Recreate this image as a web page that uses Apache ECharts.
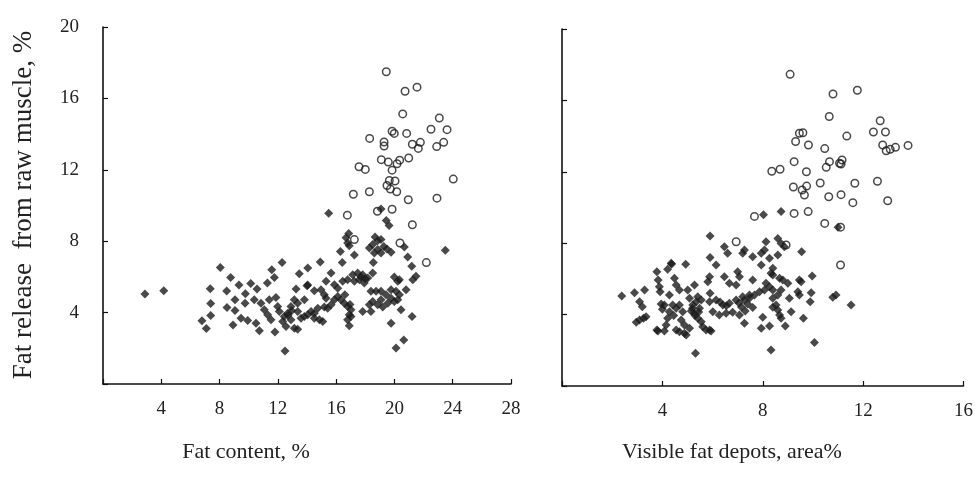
<!DOCTYPE html>
<html>
<head>
<meta charset="utf-8">
<title>Fat release scatter</title>
<script src="https://cdn.jsdelivr.net/npm/echarts@6/dist/echarts.min.js"></script>
<style>
  html, body { margin: 0; padding: 0; background: #fff; }
  #chart { width: 976px; height: 490px; }
</style>
</head>
<body>
<div id="chart"></div>
<script>
// left panel: fat content (%) vs fat release (%)
var leftFilled = [
  [2.88,5.04],[4.17,5.22],[8.05,6.52],[12.29,6.81],[8.76,5.97],[7.36,5.34],[9.33,5.54],[10.14,5.63],
  [10.57,5.32],[11.58,6.4],[11.76,5.96],[11.28,5.66],[8.49,5.21],[9.77,5.06],[7.39,4.51],[9.06,4.72],
  [9.75,4.53],[8.51,4.29],[9.06,4.12],[7.39,3.84],[6.79,3.54],[7.09,3.11],[8.92,3.31],[9.47,3.69],
  [9.93,3.56],[10.5,3.41],[10.73,2.99],[11.8,2.92],[12.49,1.85],[10.38,4.72],[10.84,4.53],[11.07,4.16],
  [11.3,3.88],[11.53,3.6],[11.41,4.72],[11.87,4.85],[12.44,3.78],[12.1,4.06],[12.68,3.97],[12.9,3.6],
  [12.33,3.5],[12.56,3.22],[13.13,3.13],[13.36,3.07],[11.99,4.34],[12.9,4.34],[13.36,4.06],[13.59,3.69],
  [13.82,4.72],[13.13,4.72],[13.36,4.53],[13.47,6.18],[14.05,6.5],[13.25,5.32],[14.0,5.51],
  [23.49,7.49],[16.86,8.43],[16.68,8.19],[16.79,7.9],[16.9,7.75],[16.29,7.42],[17.25,7.23],
  [18.67,8.24],[18.85,8.02],[19.08,8.09],[18.51,7.81],[18.28,7.62],[18.85,7.53],[19.27,7.71],[19.49,7.57],
  [19.77,7.38],[19.08,7.34],[18.62,7.34],[20.68,7.68],[20.91,7.12],[21.19,6.59],[14.91,6.84],[16.42,6.81],
  [18.55,6.81],[15.65,6.22],[15.31,5.75],[14.05,5.54],[14.5,5.22],[14.96,5.28],[15.19,5.0],[15.31,4.81],
  [17.14,6.12],[17.48,6.22],[17.82,6.12],[18.17,5.94],[18.51,6.22],[17.59,5.84],[17.93,5.66],[17.25,5.75],
  [16.79,5.84],[16.45,5.75],[15.88,5.56],[16.11,5.37],[19.99,5.99],[20.34,5.84],[20.23,5.75],[21.48,6.03],
  [21.26,5.84],[20.8,5.28],[19.77,5.28],[20.11,5.19],[20.34,5.0],[20.23,4.72],[19.99,4.62],[19.77,4.81],
  [19.42,5.0],[19.08,5.19],[18.74,5.19],[18.39,5.19],[19.08,4.72],[19.54,4.53],[19.2,4.31],[18.85,4.44],
  [18.51,4.62],[18.28,4.44],[17.82,4.06],[18.39,4.06],[20.45,4.16],[21.21,3.78],[19.77,3.41],[20.64,2.47],
  [20.11,2.01],[16.11,4.9],[16.33,4.72],[16.56,4.53],[16.79,4.34],[17.02,4.16],[16.9,3.88],[16.79,3.6],
  [16.9,3.26],[17.02,3.78],[15.88,4.72],[15.65,4.44],[15.42,4.25],[15.19,4.31],[14.74,4.25],[14.5,3.97],
  [14.28,4.06],[14.05,3.88],[14.5,3.69],[14.85,3.6],[15.08,3.5],[13.82,3.78],
  [15.49,9.57],[19.08,9.81],[19.44,9.16],[19.63,8.88],
  [12.7,3.85],[12.95,4.1],[17.7,6.0],[18.0,5.9],[16.6,5.0],[16.95,4.45]
];
var leftOpen = [
  [19.44,17.49],[20.73,16.4],[21.55,16.63],[20.57,15.13],[23.08,14.9],[22.51,14.27],[23.61,14.25],
  [19.84,14.16],[19.99,14.04],[20.84,14.04],[18.3,13.76],[19.29,13.56],[19.29,13.33],[21.23,13.43],
  [21.78,13.54],[21.64,13.2],[23.38,13.54],[22.9,13.3],[19.1,12.57],[19.58,12.43],[20.36,12.54],
  [20.98,12.66],[20.18,12.34],[19.84,11.98],[17.57,12.17],[18.0,12.02],[19.65,11.4],[20.04,11.37],
  [19.49,11.12],[19.72,10.92],[20.16,10.77],[24.04,11.48],[17.18,10.63],[18.28,10.77],[20.95,10.32],
  [22.92,10.41],[16.77,9.46],[19.84,9.79],[18.83,9.68],[21.23,8.92],[17.25,8.09],[20.38,7.9],[22.19,6.8]
];

// right panel: visible fat depots (area%) vs fat release (%)
var rightFilled = [
  [8.03,9.6],[8.73,9.77],[11.0,8.9],[5.9,8.4],[6.47,7.8],[6.6,7.43],[7.2,7.43],[7.27,7.62],[5.9,7.2],
  [6.14,6.78],[4.93,6.82],[4.37,6.83],[4.21,6.54],[3.78,6.4],[3.83,5.94],[3.88,5.56],[3.91,5.28],
  [4.48,6.03],[4.55,5.66],[4.68,5.38],[5.28,5.66],[5.01,5.38],[5.88,6.12],[5.81,5.84],[5.9,5.19],
  [6.47,6.12],[6.67,5.75],[6.94,5.66],[7.07,6.12],[7.0,6.4],[2.38,5.04],[2.89,5.23],[3.29,5.38],
  [3.09,4.72],[3.2,4.44],[3.35,3.88],[3.25,3.79],[2.96,3.57],[4.28,5.1],[4.08,4.54],[4.41,4.54],
  [4.28,4.16],[4.21,3.79],[4.15,3.42],[4.08,3.08],[3.82,3.08],[4.68,4.54],[4.81,4.16],[4.75,3.7],
  [4.88,3.42],[5.08,3.23],[4.68,3.04],[4.88,2.95],[5.21,4.54],[5.35,4.72],[5.48,4.35],[5.28,4.07],
  [5.41,3.79],[5.55,3.6],[5.61,3.32],[5.74,3.14],[5.94,3.08],[5.08,4.91],[5.41,5.0],[5.55,4.82],
  [5.88,4.72],[6.14,4.82],[6.41,4.54],[6.67,4.63],[6.94,4.82],[7.2,5.0],[7.47,5.1],[6.01,4.16],
  [6.27,3.98],[6.54,4.07],[6.8,4.13],[7.27,3.51],[5.32,1.83],
  [8.13,8.08],[8.07,7.62],[7.94,7.43],[7.6,7.24],[8.27,7.15],[8.6,8.27],[8.73,7.99],[8.86,7.8],
  [8.6,7.34],[9.55,7.52],[7.94,6.78],[8.4,6.59],[8.33,6.31],[8.4,6.22],[7.6,5.94],[8.67,6.03],
  [8.8,5.94],[9.0,5.75],[9.46,5.94],[9.53,5.84],[9.97,6.16],[8.13,5.75],[8.27,5.56],[8.4,5.38],
  [8.07,5.38],[7.87,5.28],[7.67,5.1],[7.47,4.91],[8.73,5.38],[8.6,5.1],[8.4,4.91],[9.4,5.28],
  [9.46,5.1],[9.93,5.23],[9.89,4.72],[9.06,4.91],[8.4,4.41],[8.6,4.26],[8.67,3.98],[8.73,3.79],
  [8.53,4.54],[9.13,4.16],[8.0,3.85],[9.62,3.79],[7.94,3.23],[8.27,3.36],[8.9,3.36],[10.79,4.97],
  [10.92,5.1],[11.52,4.54],[10.06,2.43],[8.33,2.02],[7.27,4.82],[7.15,4.43],
  [3.09,3.7],[3.78,3.14],[4.35,6.87],[7.07,3.98],[5.88,3.14],[4.55,3.14],[4.95,2.86],
  [3.95,4.6],[4.0,4.3],[5.15,4.2],[5.3,3.95],[7.4,4.6],[7.6,4.4],[7.3,4.2],[7.05,4.65],
  [5.2,4.35],[5.45,4.15],[6.3,4.7],[6.55,4.5],[4.55,4.35],[4.45,3.95]
];
var rightOpen = [
  [9.09,17.46],[10.8,16.36],[11.77,16.57],[10.65,15.1],[12.68,14.86],[12.41,14.23],[12.89,14.23],
  [11.35,14.0],[9.46,14.16],[9.6,14.19],[9.31,13.7],[9.82,13.5],[10.47,13.3],[12.78,13.5],[12.92,13.18],
  [13.08,13.26],[13.29,13.37],[13.79,13.48],[9.25,12.57],[10.66,12.57],[10.53,12.25],[11.06,12.48],
  [11.16,12.66],[11.12,12.44],[8.36,12.03],[8.69,12.14],[9.74,12.0],[9.22,11.15],[9.57,10.98],
  [9.75,11.2],[9.66,10.7],[10.29,11.37],[11.67,11.36],[12.57,11.47],[10.63,10.6],[11.12,10.72],
  [11.59,10.27],[12.98,10.38],[7.67,9.5],[9.25,9.67],[9.81,9.77],[10.47,9.11],[11.1,8.9],
  [6.94,8.08],[8.93,7.9],[11.1,6.78]
];

var font = 'Liberation Serif, Times New Roman, serif';
var ink = '#111';

function xAxisOf(grid, max) {
  return {
    gridIndex: grid, type: 'value', min: 0, max: max, interval: 4,
    axisLine: { lineStyle: { color: ink, width: 1.6 } },
    axisTick: { inside: true, length: 5, lineStyle: { color: ink, width: 1.2 } },
    axisLabel: {
      margin: 16, color: '#222', fontFamily: font, fontSize: 19,
      formatter: function (v) { return v === 0 ? '' : v; }
    },
    splitLine: { show: false }
  };
}
function yAxisOf(grid, showLabels) {
  return {
    gridIndex: grid, type: 'value', min: 0, max: 20, interval: 4,
    axisLine: { show: true, lineStyle: { color: ink, width: 1.6 } },
    axisTick: { show: true, inside: true, length: 5, lineStyle: { color: ink, width: 1.2 } },
    axisLabel: {
      show: showLabels, margin: 24, color: '#222', fontFamily: font, fontSize: 19,
      formatter: function (v) { return v === 0 ? '' : v; }
    },
    splitLine: { show: false }
  };
}

var filledStyle = { color: '#1c1c1c' };
var openStyle = { color: 'transparent', borderColor: '#1c1c1c', borderWidth: 1.5 };

var chart = echarts.init(document.getElementById('chart'));
chart.setOption({
  backgroundColor: '#fff',
  animation: false,
  grid: [
    { left: 103, top: 27, width: 408, height: 357 },
    { left: 562, top: 29, width: 402, height: 357 }
  ],
  xAxis: [xAxisOf(0, 28), xAxisOf(1, 16)],
  yAxis: [yAxisOf(0, true), yAxisOf(1, false)],
  graphic: [
    { type: 'text', x: 24, y: 205, rotation: Math.PI / 2,
      style: { text: 'Fat release  from raw muscle, %', font: '27px ' + font, fill: '#222',
               textAlign: 'center', textVerticalAlign: 'middle' } },
    { type: 'text', x: 246, y: 452,
      style: { text: 'Fat content, %', font: '22px ' + font, fill: '#222',
               textAlign: 'center', textVerticalAlign: 'middle' } },
    { type: 'text', x: 732, y: 452,
      style: { text: 'Visible fat depots, area%', font: '22px ' + font, fill: '#222',
               textAlign: 'center', textVerticalAlign: 'middle' } }
  ],
  series: [
    { type: 'scatter', xAxisIndex: 0, yAxisIndex: 0, data: leftFilled,
      symbol: 'diamond', symbolSize: 9, itemStyle: filledStyle },
    { type: 'scatter', xAxisIndex: 0, yAxisIndex: 0, data: leftOpen,
      symbol: 'circle', symbolSize: 7.5, itemStyle: openStyle },
    { type: 'scatter', xAxisIndex: 1, yAxisIndex: 1, data: rightFilled,
      symbol: 'diamond', symbolSize: 9, itemStyle: filledStyle },
    { type: 'scatter', xAxisIndex: 1, yAxisIndex: 1, data: rightOpen,
      symbol: 'circle', symbolSize: 7.5, itemStyle: openStyle }
  ]
});
</script>
</body>
</html>
